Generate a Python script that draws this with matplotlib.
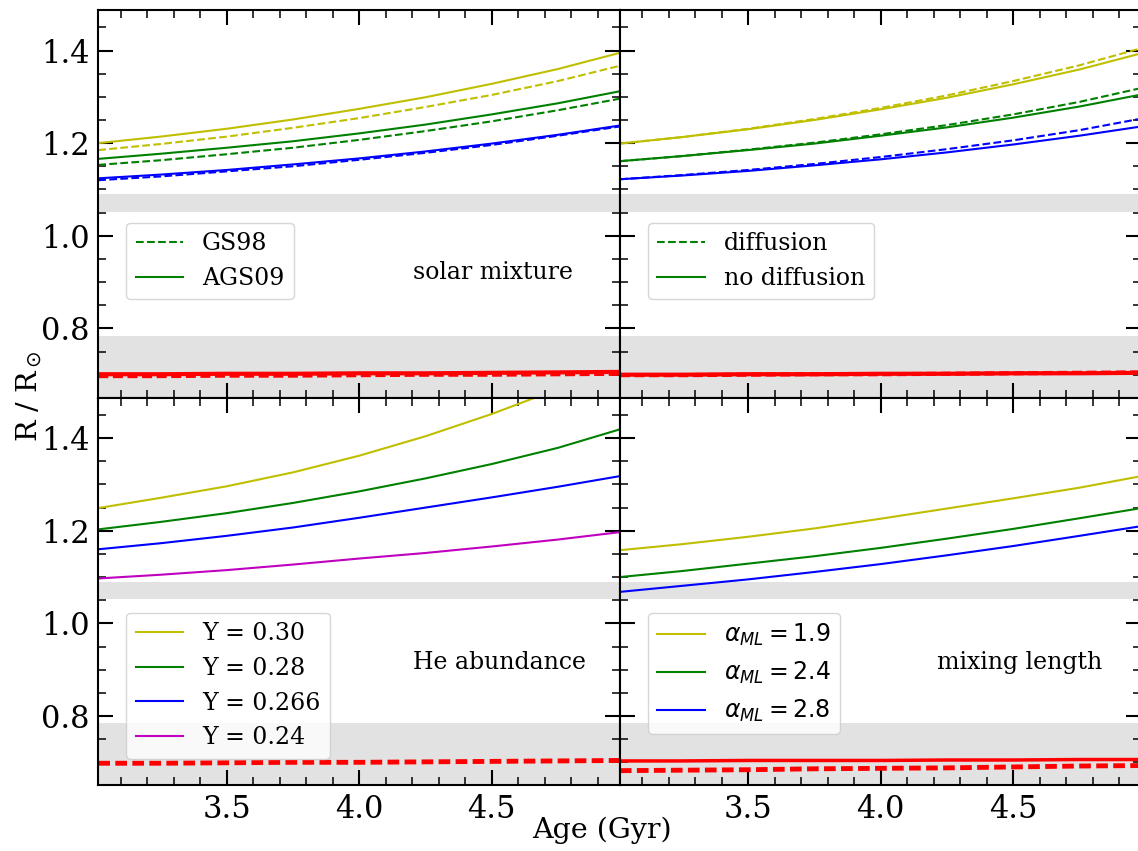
import matplotlib
matplotlib.use("Agg")
import matplotlib.pyplot as plt
from matplotlib.ticker import MultipleLocator

plt.rcParams["font.family"] = "serif"
plt.rcParams["font.serif"] = ["DejaVu Serif"]

# model ages (Gyr)
ages = [3.016, 3.25, 3.5, 3.75, 4.0, 4.25, 4.5, 4.75, 4.984]

# solar mixture: AGS09 (solid) vs GS98 (dashed)
mix_y_ags = [1.200, 1.214, 1.231, 1.251, 1.274, 1.299, 1.328, 1.360, 1.395]
mix_y_gs = [1.185, 1.198, 1.214, 1.233, 1.254, 1.278, 1.304, 1.334, 1.367]
mix_g_ags = [1.166, 1.177, 1.190, 1.204, 1.221, 1.240, 1.262, 1.286, 1.312]
mix_g_gs = [1.153, 1.163, 1.176, 1.190, 1.207, 1.226, 1.247, 1.271, 1.296]
mix_b_ags = [1.124, 1.132, 1.142, 1.154, 1.167, 1.182, 1.199, 1.218, 1.238]
mix_b_gs = [1.120, 1.128, 1.139, 1.150, 1.164, 1.179, 1.196, 1.216, 1.236]
mix_r_ags = [0.701, 0.701, 0.702, 0.702, 0.703, 0.703, 0.704, 0.705, 0.706]
mix_r_gs = [0.697, 0.697, 0.698, 0.698, 0.699, 0.700, 0.700, 0.701, 0.702]

# diffusion (dashed) vs no diffusion (solid)
dif_y_nod = [1.199, 1.213, 1.230, 1.250, 1.273, 1.298, 1.327, 1.359, 1.394]
dif_y_dif = [1.199, 1.213, 1.231, 1.252, 1.276, 1.303, 1.334, 1.368, 1.405]
dif_g_nod = [1.161, 1.172, 1.185, 1.199, 1.216, 1.234, 1.255, 1.279, 1.305]
dif_g_dif = [1.161, 1.172, 1.186, 1.201, 1.219, 1.239, 1.262, 1.289, 1.319]
dif_b_nod = [1.122, 1.130, 1.140, 1.152, 1.165, 1.180, 1.197, 1.216, 1.236]
dif_b_dif = [1.122, 1.131, 1.142, 1.155, 1.170, 1.187, 1.206, 1.228, 1.253]
dif_r_nod = [0.700, 0.700, 0.701, 0.701, 0.702, 0.702, 0.703, 0.703, 0.704]
dif_r_dif = [0.699, 0.699, 0.700, 0.701, 0.701, 0.702, 0.703, 0.704, 0.705]

# helium abundance
he_030 = [1.249, 1.271, 1.296, 1.326, 1.362, 1.404, 1.452, 1.506, 1.566]
he_028 = [1.203, 1.219, 1.238, 1.260, 1.285, 1.313, 1.344, 1.379, 1.419]
he_0266 = [1.160, 1.173, 1.189, 1.207, 1.228, 1.250, 1.272, 1.295, 1.318]
he_024 = [1.097, 1.105, 1.115, 1.127, 1.140, 1.152, 1.166, 1.181, 1.197]
he_red = [0.698, 0.698, 0.699, 0.700, 0.700, 0.701, 0.702, 0.703, 0.704]

# mixing length
ml_19 = [1.158, 1.171, 1.187, 1.205, 1.226, 1.248, 1.270, 1.293, 1.318]
ml_24 = [1.100, 1.113, 1.129, 1.145, 1.163, 1.183, 1.204, 1.227, 1.249]
ml_28 = [1.068, 1.081, 1.095, 1.111, 1.128, 1.147, 1.167, 1.189, 1.210]
ml_red = [0.703, 0.703, 0.704, 0.704, 0.704, 0.705, 0.705, 0.706, 0.706]
ml_red_dash = [0.682, 0.683, 0.684, 0.686, 0.687, 0.688, 0.690, 0.692, 0.693]

# observed radius ranges
band_star = (1.052, 1.090)
band_cz = (0.60, 0.784)

fig, axes = plt.subplots(2, 2, sharex=True, sharey=True, figsize=(11.38, 8.51), dpi=100)
fig.subplots_adjust(left=0.0864, right=1.003, bottom=0.077, top=0.988, wspace=0, hspace=0)

lw = 1.5
red_dash = (0, (2.4, 1.1))
fs = 17

for ax in axes.flat:
    ax.axhspan(*band_star, color="#e2e2e2", zorder=0, lw=0)
    ax.axhspan(*band_cz, color="#e2e2e2", zorder=0, lw=0)
    ax.set_xlim(ages[0], ages[-1])
    ax.set_ylim(0.65, 1.487)
    ax.xaxis.set_major_locator(MultipleLocator(0.5))
    ax.xaxis.set_minor_locator(MultipleLocator(0.1))
    ax.yaxis.set_major_locator(MultipleLocator(0.2))
    ax.yaxis.set_minor_locator(MultipleLocator(0.05))
    ax.tick_params(which="both", direction="in", top=True, right=True, labelsize=22, pad=6)
    ax.tick_params(which="major", length=11, width=1.5)
    ax.tick_params(which="minor", length=5.5, width=1.1)
    for s in ax.spines.values():
        s.set_linewidth(1.5)

# solar mixture
ax = axes[0, 0]
ax.plot(ages, mix_y_ags, color="y", lw=lw)
ax.plot(ages, mix_y_gs, color="y", lw=lw, ls="--")
ax.plot(ages, mix_g_gs, color="g", lw=lw, ls="--", label="GS98")
ax.plot(ages, mix_g_ags, color="g", lw=lw, label="AGS09")
ax.plot(ages, mix_b_ags, color="b", lw=lw)
ax.plot(ages, mix_b_gs, color="b", lw=lw, ls="--")
ax.plot(ages, mix_r_ags, color="r", lw=3)
ax.plot(ages, mix_r_gs, color="r", lw=3, ls=red_dash)
ax.legend(loc="upper left", bbox_to_anchor=(0.054, 0.452), borderaxespad=0, fontsize=fs)
ax.text(0.757, 0.323, "solar mixture", transform=ax.transAxes, ha="center", va="center", fontsize=fs)

# diffusion
ax = axes[0, 1]
ax.plot(ages, dif_y_nod, color="y", lw=lw)
ax.plot(ages, dif_y_dif, color="y", lw=lw, ls="--")
ax.plot(ages, dif_g_dif, color="g", lw=lw, ls="--", label="diffusion")
ax.plot(ages, dif_g_nod, color="g", lw=lw, label="no diffusion")
ax.plot(ages, dif_b_nod, color="b", lw=lw)
ax.plot(ages, dif_b_dif, color="b", lw=lw, ls="--")
ax.plot(ages, dif_r_nod, color="r", lw=3)
ax.plot(ages, dif_r_dif, color="r", lw=3, ls=red_dash)
ax.legend(loc="upper left", bbox_to_anchor=(0.054, 0.452), borderaxespad=0, fontsize=fs)

# helium abundance
ax = axes[1, 0]
ax.plot(ages, he_030, color="y", lw=lw, label="Y = 0.30")
ax.plot(ages, he_028, color="g", lw=lw, label="Y = 0.28")
ax.plot(ages, he_0266, color="b", lw=lw, label="Y = 0.266")
ax.plot(ages, he_024, color="m", lw=lw, label="Y = 0.24")
ax.plot(ages, he_red, color="r", lw=3.5, ls=red_dash)
ax.legend(loc="upper left", bbox_to_anchor=(0.054, 0.446), borderaxespad=0, fontsize=fs)
ax.text(0.77, 0.317, "He abundance", transform=ax.transAxes, ha="center", va="center", fontsize=fs)

# mixing length
ax = axes[1, 1]
ax.plot(ages, ml_19, color="y", lw=lw, label=r"$\alpha_{ML} = 1.9$")
ax.plot(ages, ml_24, color="g", lw=lw, label=r"$\alpha_{ML} = 2.4$")
ax.plot(ages, ml_28, color="b", lw=lw, label=r"$\alpha_{ML} = 2.8$")
ax.plot(ages, ml_red, color="r", lw=2.5)
ax.plot(ages, ml_red_dash, color="r", lw=3.5, ls=red_dash)
ax.legend(loc="upper left", bbox_to_anchor=(0.054, 0.446), borderaxespad=0, fontsize=fs)
ax.text(0.766, 0.317, "mixing length", transform=ax.transAxes, ha="center", va="center", fontsize=fs)

fig.text(0.529, 0.024, "Age (Gyr)", ha="center", va="center", fontsize=20.5)
fig.text(0.026, 0.535, r"R / R$_\odot$", ha="center", va="center", rotation=90, fontsize=20.5)

fig.savefig("out.png", dpi=100)
plt.close(fig)
